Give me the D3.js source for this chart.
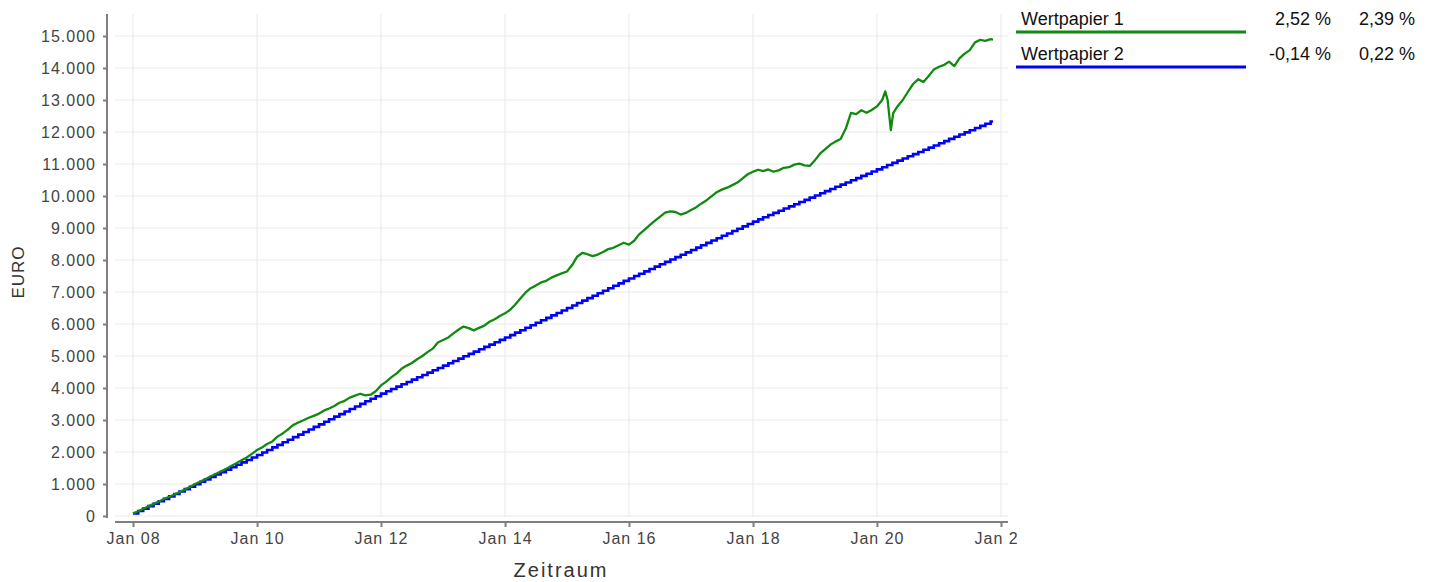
<!DOCTYPE html>
<html>
<head>
<meta charset="utf-8">
<script src="https://cdn.jsdelivr.net/npm/d3@7"></script>
<style>
  body { margin: 0; background: #fff; font-family: "Liberation Sans", Arial, sans-serif; }
</style>
</head>
<body>
<svg id="chart"></svg>
<script>
// legend / series info
const seriesNames = ["Wertpapier 1", "Wertpapier 2"];
const seriesColors = ["#118a11", "#0000ff"];
const perfA = ["2,52 %", "-0,14 %"];
const perfB = ["2,39 %", "0,22 %"];

const yTicks = [0, 1000, 2000, 3000, 4000, 5000, 6000, 7000, 8000, 9000, 10000, 11000, 12000, 13000, 14000, 15000];

// Wertpapier 1 – monthly values Jan 2008 .. Dec 2019
const greenStart = "2008-01-01";
const greenMonthly = [
  84, 150, 225, 300, 378, 452, 530, 600, 670, 745, 825, 905,
  1000, 1075, 1150, 1235, 1310, 1390, 1470, 1560, 1650, 1740, 1830, 1940,
  2062, 2150, 2250, 2330, 2480, 2580, 2700, 2840, 2920, 2990, 3070, 3130,
  3200, 3300, 3360, 3440, 3540, 3600, 3700, 3760, 3820, 3770, 3790, 3900,
  4080, 4200, 4330, 4450, 4600, 4700, 4780, 4900, 5000, 5120, 5230, 5420,
  5500, 5580, 5700, 5820, 5920, 5870, 5800, 5880, 5950, 6070, 6150, 6250,
  6333, 6450, 6600, 6800, 6980, 7120, 7200, 7300, 7350, 7450, 7520, 7580,
  7640, 7850, 8100, 8220, 8180, 8120, 8170, 8250, 8340, 8380, 8460, 8540,
  8480, 8600, 8800, 8940, 9080, 9220, 9350, 9480, 9520, 9500, 9420, 9470,
  9560, 9650, 9760, 9860, 9990, 10120, 10200, 10260, 10340, 10420, 10550, 10680,
  10760, 10820, 10780, 10830, 10760, 10800, 10880, 10900, 10980, 11010, 10960, 10940,
  11120, 11330, 11460, 11600, 11700, 11780, 12100, 12600, 12560, 12680, 12600, 12690
];
// Wertpapier 1 – 2020 onwards (incl. crash in March 2020)
const greenRecent = [
  ["2020-01-01", 12800], ["2020-02-01", 13000], ["2020-02-19", 13270], ["2020-03-04", 13000],
  ["2020-03-23", 12060], ["2020-04-06", 12590], ["2020-05-01", 12800], ["2020-06-01", 13000],
  ["2020-07-01", 13250], ["2020-08-01", 13500], ["2020-09-01", 13650], ["2020-10-01", 13560],
  ["2020-11-01", 13750], ["2020-12-01", 13950], ["2021-01-01", 14040], ["2021-02-01", 14100],
  ["2021-03-01", 14200], ["2021-04-01", 14060], ["2021-05-01", 14300], ["2021-06-01", 14450],
  ["2021-07-01", 14560], ["2021-08-01", 14800], ["2021-09-01", 14880], ["2021-10-01", 14850],
  ["2021-11-01", 14900], ["2021-11-15", 14890]
];

// Wertpapier 2 – monthly values Jan 2008 .. Nov 2021 (step line)
const blueStart = "2008-01-01";
const blueMonthly = [
  80, 156, 232, 308, 384, 460, 536, 612, 688, 764, 840, 916,
  992, 1068, 1144, 1220, 1296, 1372, 1448, 1524, 1600, 1676, 1752, 1828,
  1904, 1984, 2064, 2144, 2224, 2304, 2384, 2464, 2544, 2624, 2704, 2784,
  2864, 2944, 3024, 3104, 3184, 3264, 3344, 3424, 3504, 3584, 3664, 3744,
  3824, 3897, 3970, 4043, 4116, 4189, 4262, 4335, 4408, 4481, 4554, 4627,
  4700, 4773, 4846, 4919, 4992, 5065, 5138, 5211, 5284, 5357, 5430, 5503,
  5576, 5653, 5730, 5807, 5884, 5961, 6038, 6115, 6192, 6269, 6346, 6423,
  6500, 6577, 6654, 6731, 6808, 6885, 6962, 7039, 7116, 7193, 7270, 7347,
  7424, 7498, 7572, 7646, 7720, 7794, 7868, 7942, 8016, 8090, 8164, 8238,
  8312, 8386, 8460, 8534, 8608, 8682, 8756, 8830, 8904, 8978, 9052, 9126,
  9200, 9268, 9336, 9404, 9472, 9540, 9608, 9676, 9744, 9812, 9880, 9948,
  10016, 10084, 10152, 10220, 10288, 10356, 10424, 10492, 10560, 10628, 10696, 10764,
  10832, 10900, 10968, 11036, 11104, 11172, 11240, 11308, 11376, 11444, 11512, 11580,
  11648, 11716, 11784, 11852, 11920, 11988, 12056, 12124, 12192, 12260, 12328
];
const seriesEnd = "2021-11-15";

const W = 1434, H = 582;
const chartW = 1017;
const parse = d3.timeParse("%Y-%m-%d");

const svg = d3.select("#chart").attr("width", W).attr("height", H);

svg.append("defs").append("clipPath").attr("id", "chartClip")
  .append("rect").attr("x", 0).attr("y", 0).attr("width", chartW).attr("height", H);

const chart = svg.append("g").attr("clip-path", "url(#chartClip)");

const x = d3.scaleTime()
  .domain([parse("2008-01-01"), parse("2022-01-01")])
  .range([133, 1001]);
const y = d3.scaleLinear().domain([0, 15000]).range([516, 36]);

const plotLeft = 115, plotRight = 1008, plotTop = 14, plotBottom = 517;

// build series
const green = greenMonthly.map((v, i) => ({ date: d3.timeMonth.offset(parse(greenStart), i), value: v }))
  .concat(greenRecent.map(d => ({ date: parse(d[0]), value: d[1] })));
const blue = blueMonthly.map((v, i) => ({ date: d3.timeMonth.offset(parse(blueStart), i), value: v }));
blue.push({ date: parse(seriesEnd), value: blueMonthly[blueMonthly.length - 1] });

const xTicks = d3.timeYear.every(2).range(parse("2008-01-01"), parse("2022-01-02"));

// grid
chart.append("g").selectAll("line.h")
  .data(yTicks).enter().append("line")
  .attr("x1", plotLeft).attr("x2", plotRight)
  .attr("y1", d => y(d)).attr("y2", d => y(d))
  .attr("stroke", "#e9e9e9").attr("stroke-width", 1);
chart.append("g").selectAll("line.v")
  .data(xTicks).enter().append("line")
  .attr("x1", d => x(d)).attr("x2", d => x(d))
  .attr("y1", plotTop).attr("y2", plotBottom)
  .attr("stroke", "#e9e9e9").attr("stroke-width", 1);

// axes
const yAxis = chart.append("g").attr("transform", "translate(107,0)")
  .call(d3.axisLeft(y).tickValues(yTicks).tickSize(4).tickPadding(7)
    .tickFormat(d => d3.format(",")(d).replace(/,/g, ".")));
yAxis.select(".domain").attr("d", `M0,${plotTop}V${plotBottom + 1}`);

const xAxis = chart.append("g").attr("transform", "translate(0,522)")
  .call(d3.axisBottom(x).tickValues(xTicks).tickSize(5).tickPadding(6)
    .tickFormat(d3.timeFormat("Jan %y")));
xAxis.select(".domain").attr("d", `M${plotLeft},0H${plotRight}`);

[yAxis, xAxis].forEach(ax => {
  ax.select(".domain").attr("stroke", "#7f7f7f").attr("stroke-width", 2);
  ax.selectAll(".tick line").attr("stroke", "#7f7f7f").attr("stroke-width", 2);
  ax.selectAll(".tick text")
    .attr("fill", "#444")
    .style("font-family", "'Liberation Sans', Arial, sans-serif")
    .style("font-size", "16px")
    .style("letter-spacing", "1px");
});

// lines
chart.append("path").datum(blue)
  .attr("fill", "none").attr("stroke", seriesColors[1]).attr("stroke-width", 2.6)
  .attr("d", d3.line().curve(d3.curveStepAfter).x(d => x(d.date)).y(d => y(d.value)));

chart.append("path").datum(green)
  .attr("fill", "none").attr("stroke", seriesColors[0]).attr("stroke-width", 2.3)
  .attr("stroke-linejoin", "round")
  .attr("d", d3.line().x(d => x(d.date)).y(d => y(d.value)));

// axis titles
chart.append("text")
  .attr("transform", `translate(24,272) rotate(-90)`)
  .attr("text-anchor", "middle")
  .attr("fill", "#333")
  .style("font-size", "17px")
  .style("letter-spacing", "1px")
  .text("EURO");

chart.append("text")
  .attr("x", 561).attr("y", 577)
  .attr("text-anchor", "middle")
  .attr("fill", "#333")
  .style("font-size", "20px")
  .style("letter-spacing", "2px")
  .text("Zeitraum");

// legend
const legend = svg.append("g");
const rows = legend.selectAll("g").data(seriesNames).enter().append("g")
  .attr("transform", (d, i) => `translate(0,${i * 35})`);
rows.append("line")
  .attr("x1", 1016).attr("x2", 1246).attr("y1", 32).attr("y2", 32)
  .attr("stroke", (d, i) => seriesColors[i]).attr("stroke-width", 3);
rows.append("text").attr("x", 1021).attr("y", 25)
  .style("font-size", "18px").attr("fill", "#111").text(d => d);
rows.append("text").attr("x", 1331).attr("y", 25).attr("text-anchor", "end")
  .style("font-size", "18px").attr("fill", "#111").text((d, i) => perfA[i]);
rows.append("text").attr("x", 1415).attr("y", 25).attr("text-anchor", "end")
  .style("font-size", "18px").attr("fill", "#111").text((d, i) => perfB[i]);
</script>
</body>
</html>
